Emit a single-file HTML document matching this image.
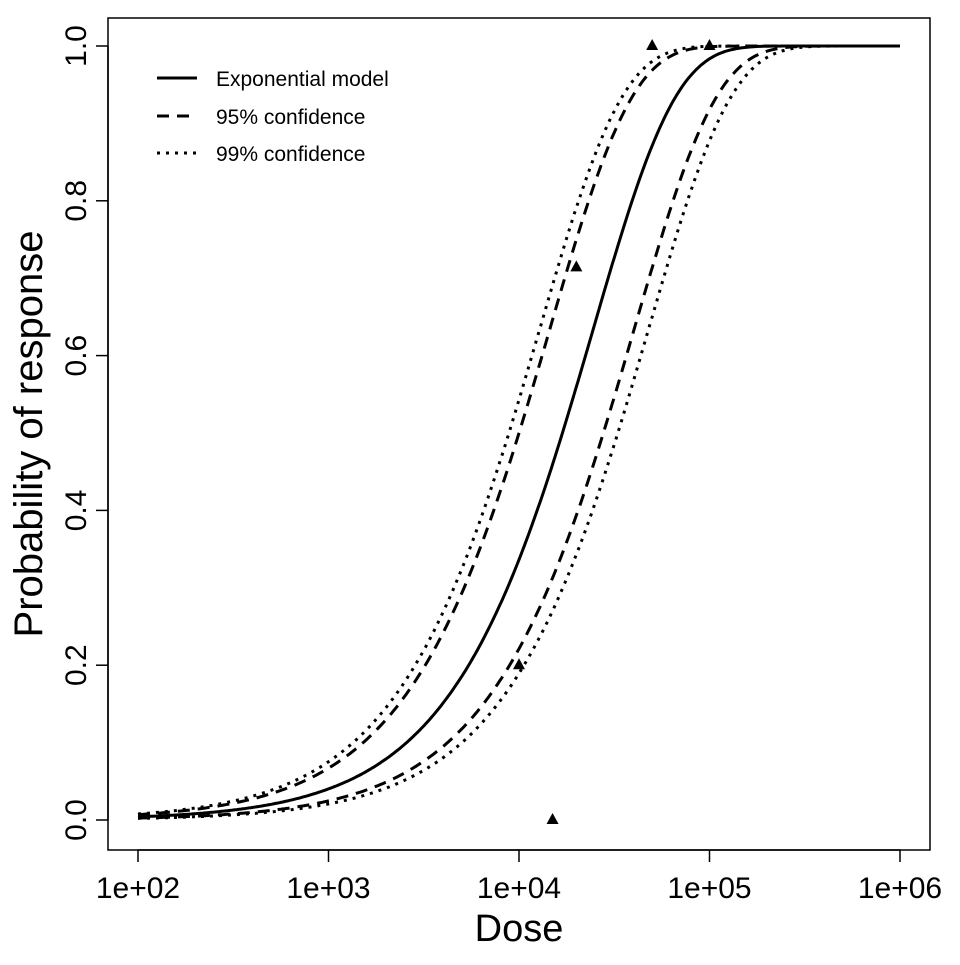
<!DOCTYPE html>
<html><head><meta charset="utf-8"><style>
body{margin:0;background:#fff}
svg text{font-family:"Liberation Sans",Arial,sans-serif;fill:#000}
</style></head><body>
<svg id="s" width="960" height="960" xmlns="http://www.w3.org/2000/svg">
<rect x="108" y="18" width="822" height="832" fill="none" stroke="#000" stroke-width="1.5"/>
<g stroke="#000" stroke-width="1.5">
<line x1="138" y1="850" x2="900" y2="850"/>
<line x1="138" y1="850" x2="138" y2="862"/><line x1="328.5" y1="850" x2="328.5" y2="862"/>
<line x1="519" y1="850" x2="519" y2="862"/><line x1="709.5" y1="850" x2="709.5" y2="862"/>
<line x1="900" y1="850" x2="900" y2="862"/>
<line x1="108" y1="820" x2="108" y2="46"/>
<line x1="108" y1="820" x2="96" y2="820"/><line x1="108" y1="665.2" x2="96" y2="665.2"/>
<line x1="108" y1="510.4" x2="96" y2="510.4"/><line x1="108" y1="355.6" x2="96" y2="355.6"/>
<line x1="108" y1="200.8" x2="96" y2="200.8"/><line x1="108" y1="46" x2="96" y2="46"/>
</g>
<g font-size="30" text-anchor="middle">
<text x="138" y="898">1e+02</text><text x="328.5" y="898">1e+03</text><text x="519" y="898">1e+04</text>
<text x="709.5" y="898">1e+05</text><text x="900" y="898">1e+06</text>
<text transform="translate(86,820) rotate(-90)">0.0</text>
<text transform="translate(86,665.2) rotate(-90)">0.2</text>
<text transform="translate(86,510.4) rotate(-90)">0.4</text>
<text transform="translate(86,355.6) rotate(-90)">0.6</text>
<text transform="translate(86,200.8) rotate(-90)">0.8</text>
<text transform="translate(86,46) rotate(-90)">1.0</text>
</g>
<text x="519" y="941" font-size="38" text-anchor="middle">Dose</text>
<text transform="translate(42,434) rotate(-90)" font-size="40" text-anchor="middle">Probability of response</text>
<g id="curves" fill="none" stroke="#000" stroke-width="3"></g>
<g id="pts"></g>
<g stroke="#000" stroke-width="3">
<line x1="157" y1="78" x2="197" y2="78"/>
<line x1="157" y1="116" x2="197" y2="116" stroke-dasharray="12,8"/>
<line x1="157" y1="153" x2="197" y2="153" stroke-dasharray="3,6"/>
</g>
<g font-size="21"><text x="216" y="86">Exponential model</text><text x="216" y="124">95% confidence</text><text x="216" y="161">99% confidence</text></g>
</svg>
<script>
var X=function(d){return 138+(Math.log10(d)-2)*190.5},Y=function(p){return 820-774*p};
var ks=[[4.1e-5,""],[6.93e-5,"12,8"],[2.5e-5,"12,8"],[7.83e-5,"3,6"],[2.1e-5,"3,6"]];
var g=document.getElementById("curves"),h="";
ks.forEach(function(k){var p="";for(var i=0;i<=400;i++){var l=2+4*i/400,d=Math.pow(10,l);var v=1-Math.exp(-k[0]*d);p+=(i?"L":"M")+X(d).toFixed(1)+","+Y(v).toFixed(1);}
h+='<path d="'+p+'"'+(k[1]?' stroke-dasharray="'+k[1]+'"':'')+'/>';});
g.innerHTML=h;
var pts=[[1e4,0.2],[1.5e4,0],[2e4,0.714],[5e4,1],[1e5,1]],q="";
pts.forEach(function(a){var x=X(a[0]),y=Y(a[1]);q+='<polygon points="'+x+','+(y-7)+' '+(x-6)+','+(y+4)+' '+(x+6)+','+(y+4)+'" fill="#000"/>';});
document.getElementById("pts").innerHTML=q;
</script>
</body></html>
